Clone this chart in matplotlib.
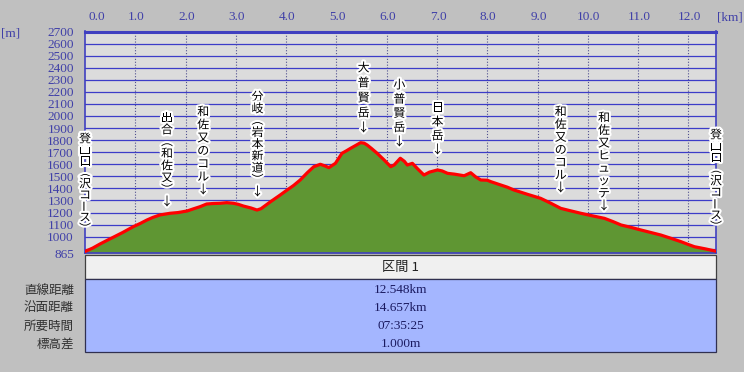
import matplotlib
matplotlib.use("Agg")
import matplotlib.pyplot as plt
import matplotlib.patheffects as pe
from matplotlib.patches import Rectangle
from matplotlib.transforms import blended_transform_factory

# ---------------- data ----------------
dist_km = [0.00, 0.15, 0.30, 0.45, 0.56, 0.75, 0.96, 1.10, 1.23, 1.35, 1.49, 1.69,
           1.85, 2.03, 2.15, 2.29, 2.42, 2.55, 2.69, 2.82, 2.95, 3.05, 3.15, 3.30,
           3.42, 3.50, 3.69, 3.88, 4.02, 4.15, 4.28, 4.42, 4.55, 4.68, 4.78, 4.85,
           4.98, 5.11, 5.20, 5.28, 5.40, 5.48, 5.55, 5.61, 5.70, 5.81, 5.95, 6.08,
           6.15, 6.27, 6.35, 6.41, 6.51, 6.62, 6.74, 6.85, 7.01, 7.10, 7.21, 7.35,
           7.54, 7.67, 7.77, 7.87, 8.00, 8.07, 8.27, 8.40, 8.53, 8.80, 9.06, 9.25,
           9.46, 9.65, 9.86, 10.10, 10.33, 10.50, 10.66, 10.85, 11.06, 11.25, 11.45,
           11.65, 11.85, 12.00, 12.12, 12.35, 12.548]
elev_m = [878, 905, 940, 972, 995, 1035, 1083, 1110, 1138, 1160, 1180, 1194,
          1200, 1213, 1230, 1249, 1271, 1275, 1277, 1282, 1277, 1268, 1254, 1238,
          1221, 1232, 1290, 1345, 1387, 1425, 1470, 1530, 1580, 1600, 1585, 1572,
          1608, 1691, 1712, 1732, 1760, 1779, 1775, 1760, 1730, 1691, 1635, 1580,
          1595, 1650, 1625, 1594, 1608, 1560, 1511, 1535, 1553, 1545, 1525, 1518,
          1505, 1530, 1495, 1470, 1468, 1456, 1428, 1410, 1387, 1351, 1318, 1280,
          1235, 1215, 1194, 1172, 1152, 1125, 1097, 1078, 1055, 1035, 1014,
          987, 959, 935, 917, 898, 880]

x_ticks = list(range(0, 13))
x_tick_labels = [f"{v:.1f}" for v in x_ticks]
y_ticks = [865] + list(range(1000, 2701, 100))
y_grid = list(range(900, 2701, 100))

# waypoint labels (vertical text), position in km
wp_names = ["登山口︵沢コース︶", "出合︵和佐又︶↓", "和佐又のコル↓", "分岐︵岩本新道︶↓",
            "大普賢岳↓", "小普賢岳↓", "日本岳↓", "和佐又のコル↓", "和佐又ヒュッテ↓",
            "登山口︵沢コース︶"]
wp_km = [0.0, 1.63, 2.35, 3.43, 5.54, 6.25, 7.01, 9.46, 10.32, 12.548]
# first / last glyph centre (pixels from top)
wp_top_px = [139, 118, 112, 97, 68, 85, 108, 112, 118, 135]
wp_bot_px = [229, 202, 190, 192, 128, 142, 150, 188, 206, 227]

row_labels = ["直線距離", "沿面距離", "所要時間", "標高差"]
row_values = ["12.548km", "14.657km", "07:35:25", "1.000m"]
section_title = "区間 1"

# ---------------- figure ----------------
W, H = 744, 372
fig = plt.figure(figsize=(W / 100, H / 100), dpi=100, facecolor="#c0c0c0")


def fx(px):
    return px / W


def fy(py):
    return 1 - py / H


ax_l, ax_r, ax_t, ax_b = 85, 716, 31.5, 253
ax = fig.add_axes([fx(ax_l), fy(ax_b), (ax_r - ax_l) / W, (ax_b - ax_t) / H])
ax.set_facecolor("#dcdcdc")
ax.set_xlim(0, 12.548)
ax.set_ylim(865, 2700)

blue = "#4040c0"
for yv in y_grid:
    ax.axhline(yv, color="#3c3cc8", lw=0.9, zorder=1)
for xv in x_ticks[1:]:
    ax.axvline(xv, color="#505090", lw=0.8, ls=(0, (1, 1.6)), zorder=1)

ax.fill_between(dist_km, elev_m, 865, color="#5f9633", zorder=2, lw=0)
ax.plot(dist_km, elev_m, color="#ff0000", lw=2.3, zorder=3, solid_joinstyle="round")

ax.set_xticks(x_ticks)
ax.set_xticklabels([])
ax.tick_params(axis="x", length=0)
ax.set_yticks(y_ticks)
ax.set_yticklabels([str(v) for v in y_ticks], family="Liberation Serif",
                   fontsize=9.5, color="#4040a8")
ax.tick_params(axis="y", length=0, pad=8)

for s in ["left", "right", "bottom"]:
    ax.spines[s].set_color(blue)
    ax.spines[s].set_linewidth(1.2)
ax.spines["top"].set_color(blue)
ax.spines["top"].set_linewidth(2.2)

# x tick labels above the plot
tr = blended_transform_factory(ax.transData, fig.transFigure)
for xv, lab in zip(x_ticks, x_tick_labels):
    xx = xv + (0.24 if xv == 0 else 0.02)
    ax.text(xx, fy(17), lab, transform=tr, ha="center", va="center",
            family="Liberation Serif", fontsize=9.5, color="#4040a8")
fig.text(fx(730), fy(17), "[km]", ha="center", va="center",
         family="Liberation Serif", fontsize=9.5, color="#4040a8")
fig.text(fx(11), fy(34), "[m]", ha="center", va="center",
         family="Liberation Serif", fontsize=9.5, color="#4040a8")

# vertical waypoint labels
cjk = ["Noto Sans CJK JP", "DejaVu Sans"]
halo = [pe.withStroke(linewidth=3, foreground="white")]
for name, km, t, b in zip(wp_names, wp_km, wp_top_px, wp_bot_px):
    n = len(name)
    step = (b - t) / (n - 1)
    for i, ch in enumerate(name):
        rot = 90 if ch == "ー" else 0
        ax.text(km, fy(t + i * step), ch, transform=tr, ha="center", va="center",
                family=cjk, fontsize=8.6, color="black", path_effects=halo,
                rotation=rot, zorder=6, clip_on=False)

# ---------------- table ----------------
tbl_l, tbl_r = 85, 716
fig.patches.append(Rectangle((fx(tbl_l), fy(279)), (tbl_r - tbl_l) / W, 24 / H,
                             transform=fig.transFigure, facecolor="#f0f0f0",
                             edgecolor="#404040", lw=0.9))
fig.patches.append(Rectangle((fx(tbl_l), fy(352)), (tbl_r - tbl_l) / W, 73 / H,
                             transform=fig.transFigure, facecolor="#a4b6ff",
                             edgecolor="#303050", lw=0.9))
cx = (tbl_l + tbl_r) / 2
fig.text(fx(cx), fy(267), section_title, ha="center", va="center",
         family=["Noto Sans CJK JP", "DejaVu Sans"], fontsize=9.5, color="#202020")
row_y = [290, 308, 326, 344]
for lab, val, ry in zip(row_labels, row_values, row_y):
    fig.text(fx(74), fy(ry), lab, ha="right", va="center",
             family=cjk, fontsize=9, color="#303030")
    fig.text(fx(cx), fy(ry), val, ha="center", va="center",
             family="Liberation Serif", fontsize=9.5, color="#1a1a60")

fig.savefig("out.png", dpi=100, facecolor=fig.get_facecolor())
